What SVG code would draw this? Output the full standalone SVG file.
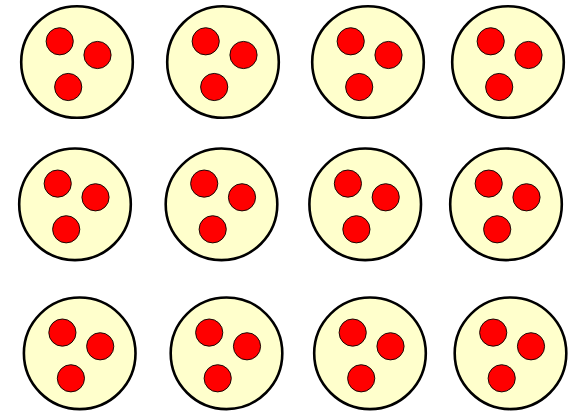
<svg xmlns="http://www.w3.org/2000/svg" xmlns:xlink="http://www.w3.org/1999/xlink" width="582" height="413" viewBox="0 0 582 413">
<style>
.big{fill:#ffffcc;stroke:#000;stroke-width:2.6}
.dot{fill:#ff0000;stroke:#000;stroke-width:0.9}
</style>
<defs>
<g id="cell">
<circle class="big" cx="0" cy="0" r="55.8"/>
<circle class="dot" cx="-17.3" cy="-20.7" r="13.6"/>
<circle class="dot" cx="20.5" cy="-7" r="13.6"/>
<circle class="dot" cx="-8.8" cy="25" r="13.6"/>
</g>
</defs>
<rect width="582" height="413" fill="#fff"/>
<g id="n1"><use xlink:href="#cell" transform="translate(77,62)"/></g>
<g id="n2"><use xlink:href="#cell" transform="translate(223,62)"/></g>
<g id="n3"><use xlink:href="#cell" transform="translate(368,62)"/></g>
<g id="n4"><use xlink:href="#cell" transform="translate(508,62)"/></g>
<g id="n5"><use xlink:href="#cell" transform="translate(75,204.3)"/></g>
<g id="n6"><use xlink:href="#cell" transform="translate(221.5,204.3)"/></g>
<g id="n7"><use xlink:href="#cell" transform="translate(365.2,204.3)"/></g>
<g id="n8"><use xlink:href="#cell" transform="translate(506,204.3)"/></g>
<g id="n9"><use xlink:href="#cell" transform="translate(79.7,353.3)"/></g>
<g id="n10"><use xlink:href="#cell" transform="translate(226.5,353.3)"/></g>
<g id="n11"><use xlink:href="#cell" transform="translate(370,353.3)"/></g>
<g id="n12"><use xlink:href="#cell" transform="translate(510.5,353.3)"/></g>
<g id="connectors"/>
</svg>
